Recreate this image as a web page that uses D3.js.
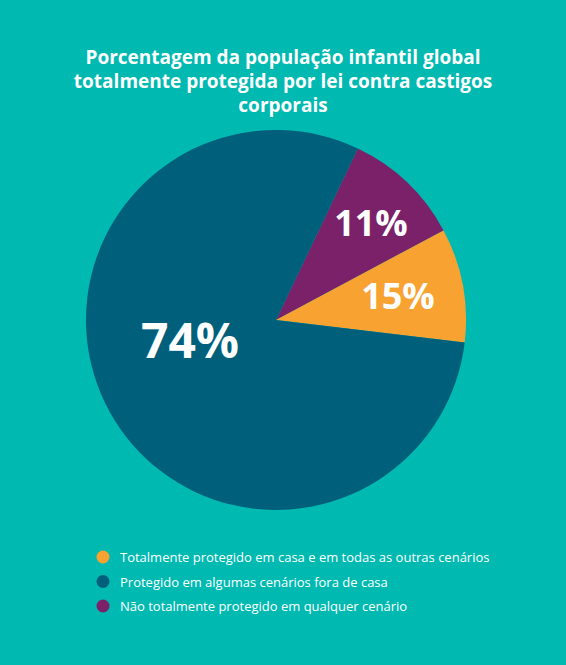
<!DOCTYPE html>
<html><head><meta charset="utf-8">
<script src="https://cdn.jsdelivr.net/npm/d3@7"></script>
<style>body{margin:0;background:#00b9b1}svg{display:block}</style>
</head><body>
<svg id="chart" width="566" height="665"></svg>
<script>
// slice sizes as drawn in the picture, with their printed labels
var categories = ["Não totalmente protegido em qualquer cenário", "Totalmente protegido em casa e em todas as outras cenários", "Protegido em algumas cenários fora de casa"];
var sliceValues = [10.1, 9.7, 80.2];
var sliceLabels = ["11%", "15%", "74%"];
var colors = ["#7a216a", "#f7a231", "#005f7a"];
var legendOrder = [1, 2, 0];

var svg = d3.select("#chart");
svg.append("rect").attr("width", 566).attr("height", 665).attr("fill", "#00b9b1");

var title = ["Porcentagem da população infantil global", "totalmente protegida por lei contra castigos", "corporais"];
svg.selectAll(".t").data(title).enter().append("text")
  .attr("x", 283).attr("y", (d, i) => 64 + i * 24)
  .attr("text-anchor", "middle").attr("fill", "#fff")
  .style("font", "bold 19px 'Open Sans', sans-serif").text(d => d);

var cx = 276, cy = 320, r = 190;
var start = 25.5 * Math.PI / 180;
var pie = d3.pie().sort(null).startAngle(start).endAngle(start + 2 * Math.PI);
var arcs = pie(sliceValues);
var arc = d3.arc().innerRadius(0).outerRadius(r);
var g = svg.append("g").attr("transform", `translate(${cx},${cy})`);
g.selectAll("path").data(arcs).enter().append("path")
  .attr("d", arc).attr("fill", (d, i) => colors[i]);

var labelPos = [[95, -84, 36], [122, -11, 36], [-86, 38, 48]];
g.selectAll(".l").data(arcs).enter().append("text")
  .attr("x", (d, i) => labelPos[i][0]).attr("y", (d, i) => labelPos[i][1])
  .attr("text-anchor", "middle").attr("fill", "#fff")
  .style("font-family", "'Open Sans', sans-serif").style("font-weight", "bold")
  .style("font-size", (d, i) => labelPos[i][2] + "px")
  .text((d, i) => sliceLabels[i]);

var lg = svg.selectAll(".lg").data(legendOrder).enter().append("g")
  .attr("transform", (d, i) => `translate(103,${557 + i * 24.5})`);
lg.append("circle").attr("r", 6.5).attr("fill", d => colors[d]);
lg.append("text").attr("x", 17).attr("y", 5).attr("fill", "#fff")
  .style("font", "13px 'Open Sans', sans-serif").text(d => categories[d]);
</script>
</body></html>
